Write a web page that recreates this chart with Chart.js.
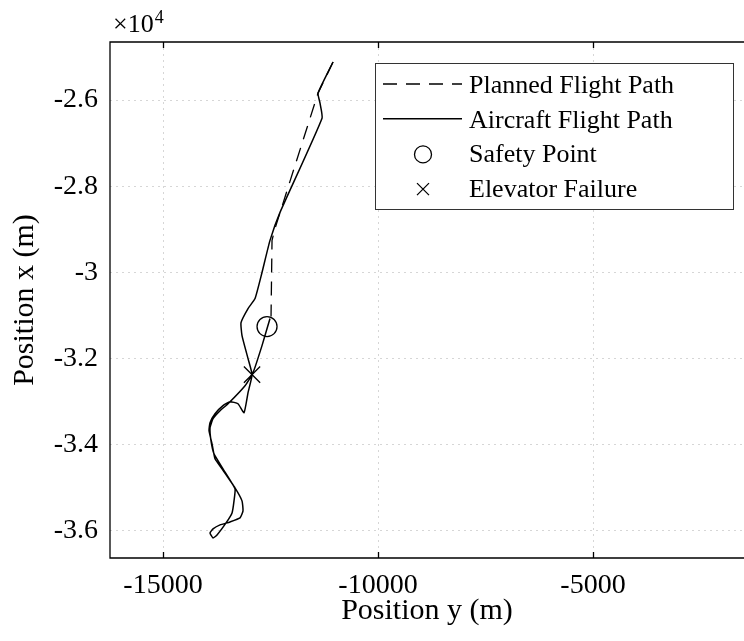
<!DOCTYPE html>
<html>
<head>
<meta charset="utf-8">
<script src="https://cdn.jsdelivr.net/npm/chart.js@4.4.0/dist/chart.umd.min.js"></script>
<style>
  html, body { margin: 0; padding: 0; background: #fff; overflow: hidden; }
  canvas { display: block; }
</style>
</head>
<body>
<canvas id="chart" width="744" height="641"></canvas>
<script>
// positions in metres: "y" runs along the horizontal axis, "x" up the vertical one
const plannedY = [-11046, -11395, -12395, -12465, -12488];
const plannedX = [-25116, -25837, -28977, -29256, -31023];

const flightY = [-11046, -11395, -11349, -11302, -12279, -12512, -12698, -12860, -13023, -13186,
  -13163, -13023, -12930, -13023, -13116, -13256, -13442, -13605, -13791, -13907,
  -13930, -13860, -13791, -13628, -13326, -13163, -13140, -13209, -13442, -13674,
  -13837, -13907, -13837, -13744, -13535, -13395, -13349, -13326, -13605, -13814,
  -13884, -13907, -13837, -13674, -13488, -13093, -12907, -12698, -12512];
const flightX = [-25116, -25837, -26070, -26419, -28605, -29256, -30000, -30605, -30837, -31163,
  -31465, -32000, -32372, -32791, -33256, -33047, -33000, -33093, -33279, -33488,
  -33674, -33977, -34326, -34558, -35000, -35302, -35535, -35698, -35791, -35860,
  -35953, -36047, -36163, -36093, -35814, -35581, -35302, -35023, -34558, -34209,
  -33907, -33605, -33395, -33209, -33047, -32628, -32326, -31698, -31070];

const safetyPoint = [-12581, -31256];   // [y, x]
const failurePoint = [-12930, -32372];  // [y, x]

const xTicks = [-15000, -10000, -5000];
const yTicks = [-26000, -28000, -30000, -32000, -34000, -36000];

function toPoints(ys, xs) {
  return ys.map((v, i) => ({ x: v, y: xs[i] }));
}

const serif = "'Liberation Serif', 'Times New Roman', serif";

// box (right side lies past the picture), inward ticks, x10^4 and the legend
const decorations = {
  id: 'decorations',
  afterDraw(chart) {
    const ctx = chart.ctx;
    const a = chart.chartArea;
    const sx = chart.scales.x;
    const R = chart.width + 5;
    ctx.save();
    ctx.strokeStyle = '#000';
    ctx.lineWidth = 1.3;
    ctx.setLineDash([]);
    ctx.beginPath();
    ctx.moveTo(R, a.top); ctx.lineTo(a.left, a.top);
    ctx.lineTo(a.left, a.bottom); ctx.lineTo(R, a.bottom);
    xTicks.forEach(v => {
      const px = Math.round(sx.getPixelForValue(v)) + 0.5;
      ctx.moveTo(px, a.top); ctx.lineTo(px, a.top + 6);
      ctx.moveTo(px, a.bottom); ctx.lineTo(px, a.bottom - 6);
    });
    ctx.stroke();

    // exponent label
    ctx.fillStyle = '#000';
    ctx.textBaseline = 'alphabetic';
    ctx.textAlign = 'left';
    ctx.font = '26px ' + serif;
    ctx.fillText('\u00d710', 113, 32);
    const w = ctx.measureText('\u00d710').width;
    ctx.font = '18px ' + serif;
    ctx.fillText('4', 113 + w + 1, 23);

    // legend
    const lx = 375, ly = 63, lw = 358, lh = 146;
    ctx.fillStyle = '#fff';
    ctx.fillRect(lx, ly, lw, lh);
    ctx.strokeStyle = '#333';
    ctx.lineWidth = 1;
    ctx.strokeRect(lx + 0.5, ly + 0.5, lw, lh);
    ctx.font = '26px ' + serif;
    chart.data.datasets.forEach((ds, i) => {
      const cy = 84 + i * 34.7;
      ctx.strokeStyle = '#000';
      ctx.lineWidth = ds.borderWidth;
      if (ds.showLine) {
        ctx.setLineDash(ds.borderDash || []);
        ctx.beginPath();
        ctx.moveTo(383, cy); ctx.lineTo(462, cy);
        ctx.stroke();
        ctx.setLineDash([]);
      } else if (ds.pointStyle === 'circle') {
        ctx.beginPath();
        ctx.arc(423, cy + 1, 8.5, 0, Math.PI * 2);
        ctx.stroke();
      } else {
        ctx.beginPath();
        ctx.moveTo(417, cy - 5); ctx.lineTo(429, cy + 7);
        ctx.moveTo(429, cy - 5); ctx.lineTo(417, cy + 7);
        ctx.stroke();
      }
      ctx.fillStyle = '#000';
      ctx.fillText(ds.label, 469, cy + 9);
    });
    ctx.restore();
  }
};

new Chart(document.getElementById('chart'), {
  type: 'scatter',
  data: {
    datasets: [
      {
        label: 'Planned Flight Path',
        data: toPoints(plannedY, plannedX),
        showLine: true,
        borderColor: '#000',
        borderWidth: 1.3,
        borderDash: [14, 9],
        pointRadius: 0,
        tension: 0
      },
      {
        label: 'Aircraft Flight Path',
        data: toPoints(flightY, flightX),
        showLine: true,
        borderColor: '#000',
        borderWidth: 1.5,
        pointRadius: 0,
        tension: 0.15
      },
      {
        label: 'Safety Point',
        data: [{ x: safetyPoint[0], y: safetyPoint[1] }],
        showLine: false,
        pointStyle: 'circle',
        pointRadius: 10,
        backgroundColor: 'rgba(0,0,0,0)',
        borderColor: '#000',
        borderWidth: 1.3
      },
      {
        label: 'Elevator Failure',
        data: [{ x: failurePoint[0], y: failurePoint[1] }],
        showLine: false,
        pointStyle: 'crossRot',
        pointRadius: 11.5,
        borderColor: '#000',
        borderWidth: 1.3
      }
    ]
  },
  options: {
    responsive: false,
    animation: false,
    layout: { autoPadding: false, padding: { top: 42, right: 0, left: 0, bottom: 0 } },
    plugins: {
      legend: { display: false },
      tooltip: { enabled: false }
    },
    scales: {
      x: {
        type: 'linear',
        min: -16233,
        max: -1489,
        afterBuildTicks: s => { s.ticks = xTicks.map(v => ({ value: v })); },
        afterFit: s => { s.height = 83; },
        grid: { color: 'rgba(0,0,0,0.16)', lineWidth: 1, drawTicks: false },
        border: { display: false, dash: [2, 4] },
        ticks: {
          padding: 11,
          color: '#000',
          font: { family: serif, size: 28 },
          callback: v => String(v)
        },
        title: {
          display: true,
          text: 'Position y (m)',
          color: '#000',
          font: { family: serif, size: 30 },
          padding: { top: 0, bottom: 12 }
        }
      },
      y: {
        type: 'linear',
        min: -36628,
        max: -24651,
        afterBuildTicks: s => { s.ticks = yTicks.map(v => ({ value: v })); },
        afterFit: s => { s.width = 110; },
        grid: { color: 'rgba(0,0,0,0.16)', lineWidth: 1, drawTicks: false },
        border: { display: false, dash: [2, 4] },
        ticks: {
          padding: 12,
          color: '#000',
          font: { family: serif, size: 28 },
          callback: v => String(Math.round(v / 1000) / 10)
        },
        title: {
          display: true,
          text: 'Position x (m)',
          color: '#000',
          font: { family: serif, size: 30 },
          padding: { top: 7, bottom: 0 }
        }
      }
    }
  },
  plugins: [decorations]
});
</script>
</body>
</html>
